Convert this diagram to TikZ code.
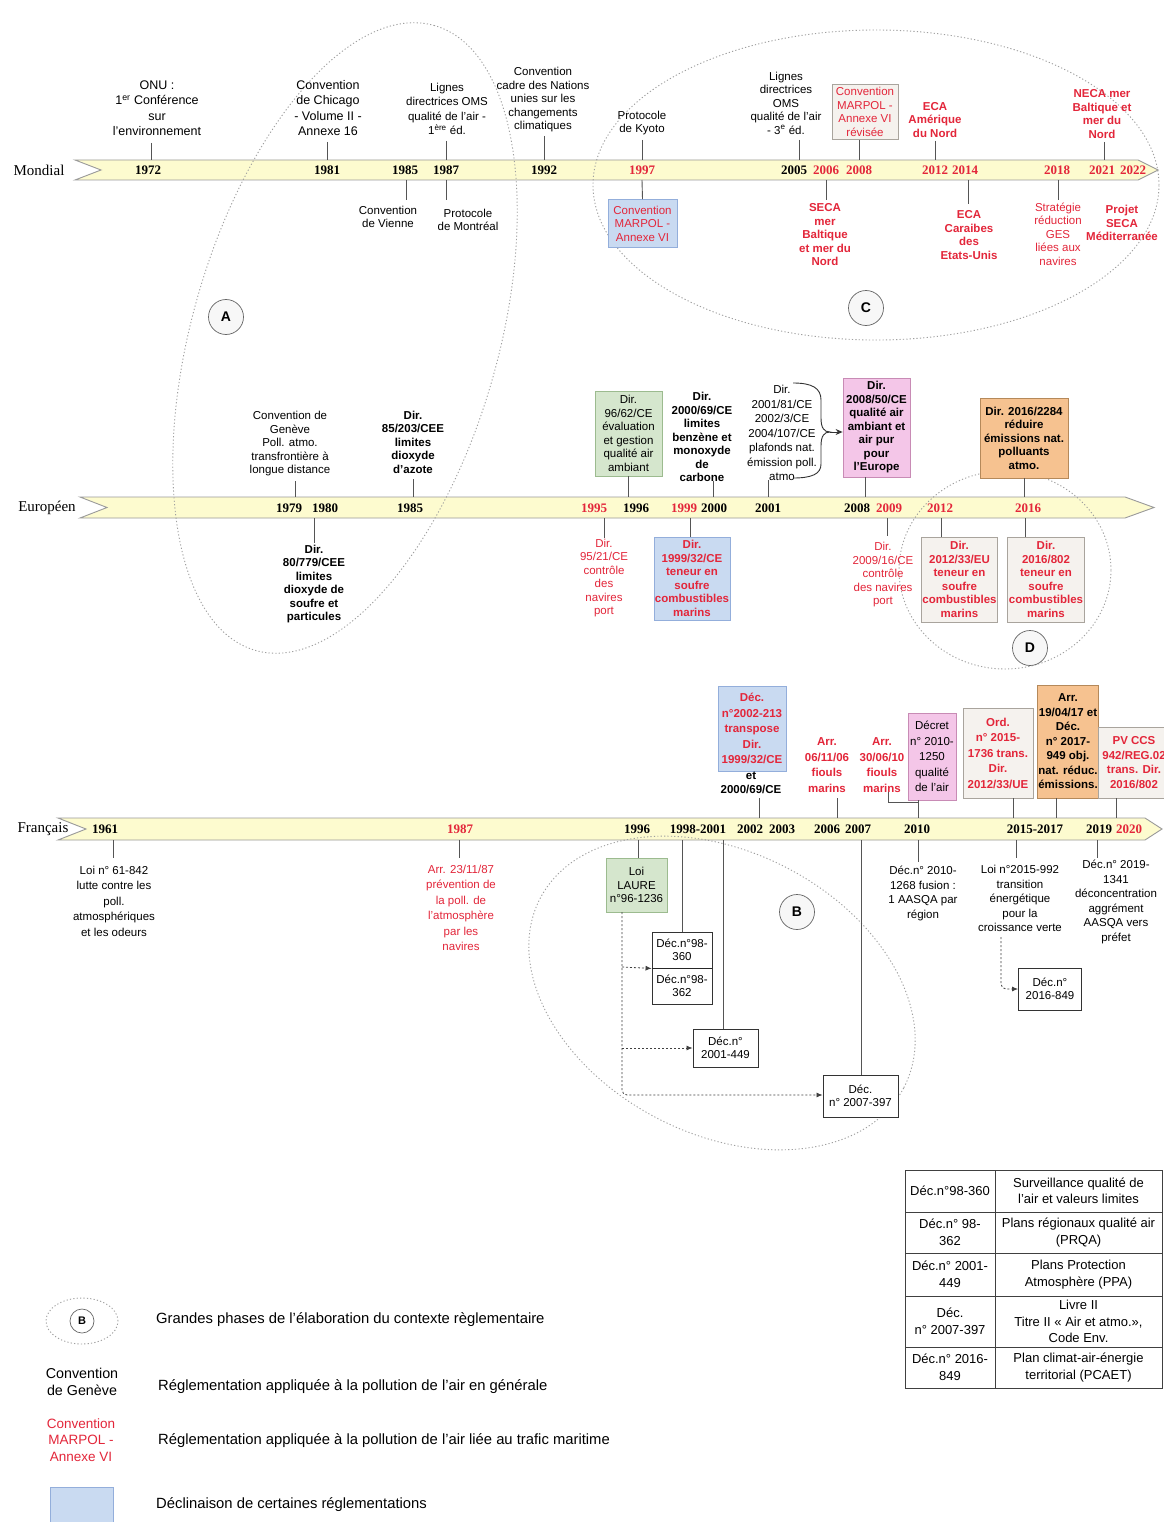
\documentclass[tikz,border=0pt]{standalone}
\usepackage{fontspec}
\setmainfont{Liberation Sans}
\newfontfamily\yrfont{Liberation Serif}
\usetikzlibrary{arrows.meta}
\definecolor{myred}{HTML}{E3263A}
\definecolor{baryel}{HTML}{FDFBCF}
\definecolor{barline}{HTML}{9A9A9A}
\definecolor{tickc}{HTML}{555555}
\definecolor{bluef}{HTML}{C9DAF1}
\definecolor{blued}{HTML}{93AEDB}
\definecolor{greenf}{HTML}{D5E6CD}
\definecolor{greend}{HTML}{9CBB8F}
\definecolor{pinkf}{HTML}{F4C6E8}
\definecolor{pinkd}{HTML}{C88BB5}
\definecolor{orangef}{HTML}{F6C290}
\definecolor{oranged}{HTML}{B5895A}
\definecolor{beigef}{HTML}{F5F2EE}
\definecolor{beiged}{HTML}{A9A49D}
\newcommand\fLab{\fontsize{11.5}{13.5}\selectfont}
\newcommand\fLabM{\fontsize{11.5}{14.5}\selectfont}
\newcommand\fLabW{\fontsize{11.5}{15.5}\selectfont}
\newcommand\fLabO{\fontsize{12.5}{15.5}\selectfont}
\newcommand\fLeg{\fontsize{14.8}{17}\selectfont}
\newcommand\fLegS{\fontsize{14.3}{17.5}\selectfont}
\newcommand\fTab{\fontsize{13}{16.5}\selectfont}
\newcommand\fYr{\yrfont\bfseries\fontsize{13}{13}\selectfont}
\newcommand\fRow{\yrfont\fontsize{15}{15}\selectfont}
\tikzset{
  lbl/.style={align=center, font=\fLab, inner sep=1pt, text=black},
  lblb/.style={lbl, font=\fLab\bfseries},
  rl/.style={lbl, text=myred},
  rlb/.style={lblb, text=myred},
  yr/.style={font=\fYr, inner sep=0pt},
  yrr/.style={yr, text=myred},
  rowlab/.style={font=\fRow, inner sep=0pt},
  tick/.style={draw=tickc, line width=0.9pt},
  bar/.style={draw=barline, fill=baryel, line width=0.9pt},
  phase/.style={draw=gray!75, line width=0.9pt, dash pattern=on 1.2pt off 2.2pt},
  lettercirc/.style={circle, draw=gray!80!black, fill=gray!6, line width=0.7pt, minimum size=35pt, inner sep=0pt, font=\bfseries\fontsize{14}{14}\selectfont},
  boxblue/.style={draw=blued, fill=bluef, line width=0.8pt},
  boxgreen/.style={draw=greend, fill=greenf, line width=0.8pt},
  boxpink/.style={draw=pinkd, fill=pinkf, line width=0.8pt},
  boxorange/.style={draw=oranged, fill=orangef, line width=0.8pt},
  boxbeige/.style={draw=beiged, fill=beigef, line width=0.8pt},
  boxw/.style={draw=black!80, fill=white, line width=0.9pt},
  dotarr/.style={draw=black!75, line width=0.8pt, dash pattern=on 2pt off 2pt, -{Latex[length=6pt,width=5pt]}},
  legtxt/.style={font=\fLeg, inner sep=0pt, anchor=west},
  cell/.style={draw=black!75, line width=1pt, align=center, font=\fTab, inner sep=1pt},
}
\begin{document}
\begin{tikzpicture}[x=1pt,y=-1pt]
\useasboundingbox (0,0) rectangle (1163,1522);
\fill[white] (0,0) rectangle (1163,1522);

% ---------------- bars ----------------
\draw[bar] (75,160) -- (1138,160) -- (1158,170) -- (1138,180) -- (75,180) -- (101,170) -- cycle;
\draw[bar] (80,497) -- (1125,497) -- (1154,507.5) -- (1125,518) -- (80,518) -- (107,507.5) -- cycle;
\draw[bar] (58,818) -- (1145,818) -- (1162,829) -- (1145,840) -- (58,840) -- (86,829) -- cycle;

% ---------------- phases ----------------
\draw[phase, rotate around={74:(345,338)}] (345,338) ellipse [x radius=325pt, y radius=153pt];
\draw[phase] (876,185) ellipse [x radius=283pt, y radius=155pt];
\draw[phase] (1005,570) ellipse [x radius=106pt, y radius=99pt];
\draw[phase, rotate around={-27.5:(722,993)}] (722,993) ellipse [x radius=205pt, y radius=141pt];

\node[lettercirc] (cA) at (226,317) {A};
\node[lettercirc] (cC) at (866,308) {C};
\node[lettercirc] (cD) at (1030,648) {D};
\node[lettercirc] (cB) at (797,912) {B};

% ---------------- row labels ----------------
\node[rowlab] (mondial) at (39,170) {Mondial};
\node[rowlab] (europ) at (47,508) {Européen};
\node[rowlab] (franc) at (43,829) {Français};

% ================= MONDIAL =================
\node[yr] (M1972) at (148,170) {1972};
\node[yr] (M1981) at (327,170) {1981};
\node[yr] (M1985) at (405,170) {1985};
\node[yr] (M1987) at (446,170) {1987};
\node[yr] (M1992) at (544,170) {1992};
\node[yrr] (M1997) at (642,170) {1997};
\node[yr] (M2005) at (794,170) {2005};
\node[yrr] (M2006) at (826,170) {2006};
\node[yrr] (M2008) at (859,170) {2008};
\node[yrr] (M2012) at (935,170) {2012};
\node[yrr] (M2014) at (965,170) {2014};
\node[yrr] (M2018) at (1057,170) {2018};
\node[yrr] (M2021) at (1102,170) {2021};
\node[yrr] (M2022) at (1133,170) {2022};

\node[lbl, font=\fLabO] (onu) at (157,108) {ONU :\\1\textsuperscript{er} Conférence\\sur\\l'environnement};
\node[lbl, font=\fLabO] (chic) at (328,108) {Convention\\de Chicago\\- Volume II -\\Annexe 16};
\node[lbl, font=\fLabM] (oms1) at (447,109) {Lignes\\directrices OMS\\qualité de l'air -\\1\textsuperscript{ère} éd.};
\node[lbl] (ccnu) at (543,100) {Convention\\cadre des Nations\\unies sur les\\changements\\climatiques};
\node[lbl] (kyoto) at (642,123) {Protocole\\de Kyoto};
\node[lbl] (oms3) at (786,103) {Lignes\\directrices\\OMS\\qualité de l'air\\- 3\textsuperscript{e} éd.};
\node[boxbeige, rl, minimum width=66, minimum height=55] (marpolr) at (865,112) {Convention\\MARPOL -\\Annexe VI\\révisée};
\node[rlb] (ecaan) at (935,120) {ECA\\Amérique\\du Nord};
\node[rlb] (neca) at (1102,114) {NECA mer\\Baltique et\\mer du\\Nord};

\draw[tick] (151,143) -- (151,160);
\draw[tick] (327,142) -- (327,160);
\draw[tick] (446,141) -- (446,160);
\draw[tick] (544,136) -- (544,160);
\draw[tick] (642,140) -- (642,160);
\draw[tick] (799,140) -- (799,160);
\draw[tick] (859,140) -- (859,160);
\draw[tick] (935,141) -- (935,160);
\draw[tick] (1104,142) -- (1104,160);

\node[lbl] (vienne) at (388,217) {Convention\\de Vienne};
\node[lbl] (montreal) at (468,220) {Protocole\\de Montréal};
\node[boxblue, rl, minimum width=69, minimum height=48] (marpol) at (642.5,223.5) {Convention\\MARPOL -\\Annexe VI};
\node[rlb] (seca) at (825,235) {SECA\\mer\\Baltique\\et mer du\\Nord};
\node[rlb] (ecacar) at (969,235) {ECA\\Caraibes\\des\\Etats-Unis};
\node[rl] (strat) at (1058,234) {Stratégie\\réduction\\GES\\liées aux\\navires};
\node[rlb] (projet) at (1122,223) {Projet\\SECA\\Méditerranée};

\draw[tick] (406,180) -- (406,200);
\draw[tick] (446,180) -- (446,200);
\draw[tick] (642,180) -- (marpol.north);
\draw[tick] (826,180) -- (826,200);
\draw[tick] (968,180) -- (968,204);
\draw[tick] (1058,180) -- (1058,200);

% ================= EUROPEEN =================
\node[yr] (E1979) at (289,508) {1979};
\node[yr] (E1980) at (325,508) {1980};
\node[yr] (E1985) at (410,508) {1985};
\node[yrr] (E1995) at (594,508) {1995};
\node[yr] (E1996) at (636,508) {1996};
\node[yrr] (E1999) at (684,508) {1999};
\node[yr] (E2000) at (714,508) {2000};
\node[yr] (E2001) at (768,508) {2001};
\node[yr] (E2008) at (857,508) {2008};
\node[yrr] (E2009) at (889,508) {2009};
\node[yrr] (E2012) at (940,508) {2012};
\node[yrr] (E2016) at (1028,508) {2016};

\node[lbl] (geneve) at (290,444) {Convention de\\Genève\\Poll. atmo.\\transfrontière à\\longue distance};
\node[lblb] (d85) at (413,442) {Dir.\\85/203/CEE\\limites\\dioxyde\\d'azote};
\node[boxgreen, lbl, minimum width=67, minimum height=85] (d96) at (628.5,433.5) {Dir.\\96/62/CE\\évaluation\\et gestion\\qualité air\\ambiant};
\node[lblb] (d2000) at (702,437) {Dir.\\2000/69/CE\\limites\\benzène et\\monoxyde\\de\\carbone};
\node[lbl, font=\fLabM] (d2001) at (782,433) {Dir.\\2001/81/CE\\2002/3/CE\\2004/107/CE\\plafonds nat.\\émission poll.\\atmo};
\node[boxpink, lblb, minimum width=67, minimum height=99] (d2008) at (876.5,427.5) {Dir.\\2008/50/CE\\qualité air\\ambiant et\\air pur\\pour\\l'Europe};
\node[boxorange, lblb, minimum width=88, minimum height=80] (d2016a) at (1024,438) {Dir. 2016/2284\\réduire\\émissions nat.\\polluants\\atmo.};

\draw[draw=black!80, line width=0.9pt] (793,383) .. controls (812,383) and (821,388) .. (821,400) -- (821,418) .. controls (821,428) and (824,432) .. (830,432) .. controls (824,432) and (821,436) .. (821,446) -- (821,464) .. controls (821,474) and (812,478) .. (793,478);
\coordinate (brtip) at (830,432);
\draw[draw=black!80, line width=0.9pt, -{Stealth[length=7pt,width=6pt]}] (brtip) -- (brtip -| d2008.west);

\draw[tick] (295,481) -- (295,497);
\draw[tick] (413,479) -- (413,497);
\draw[tick] (628,476) -- (628,497);
\draw[tick] (713,481) -- (713,497);
\draw[tick] (768,480) -- (768,497);
\draw[tick] (865,477) -- (865,497);
\draw[tick] (1024,478) -- (1024,497);

\node[lblb] (d80) at (314,584) {Dir.\\80/779/CEE\\limites\\dioxyde de\\soufre et\\particules};
\node[rl] (d95) at (604,578) {Dir.\\95/21/CE\\contrôle\\des\\navires\\port};
\node[boxblue, rlb, minimum width=72, minimum height=83] (d1999) at (692,578.5) {Dir.\\1999/32/CE\\teneur en\\soufre\\combustibles\\marins};
\node[rl] (d2009) at (883,575) {Dir.\\2009/16/CE\\contrôle\\des navires\\port};
\node[boxbeige, rlb, minimum width=76, minimum height=85] (d2012) at (959.5,579.5) {Dir.\\2012/33/EU\\teneur en\\soufre\\combustibles\\marins};
\node[boxbeige, rlb, minimum width=77, minimum height=85] (d2016b) at (1046,579.5) {Dir.\\2016/802\\teneur en\\soufre\\combustibles\\marins};

\draw[tick] (314,518) -- (314,543);
\draw[tick] (604,518) -- (604,538);
\draw[tick] (690,518) -- (690,537);
\draw[tick] (887,518) -- (887,536);
\draw[tick] (941,518) -- (941,537);
\draw[tick] (1025,518) -- (1025,537);

% ================= FRANCAIS =================
\node[yr] (F1961) at (105,829) {1961};
\node[yrr] (F1987) at (460,829) {1987};
\node[yr] (F1996) at (637,829) {1996};
\node[yr] (F1998) at (698,829) {1998-2001};
\node[yr] (F2002) at (750,829) {2002};
\node[yr] (F2003) at (782,829) {2003};
\node[yr] (F2006) at (827,829) {2006};
\node[yr] (F2007) at (858,829) {2007};
\node[yr] (F2010) at (917,829) {2010};
\node[yr] (F2015) at (1035,829) {2015-2017};
\node[yr] (F2019) at (1099,829) {2019};
\node[yrr] (F2020) at (1129,829) {2020};

\node[boxblue, rlb, font=\fLabW\bfseries, minimum width=68, minimum height=85] (dec2002) at (752,728.5) {Déc.\\n°2002-213\\transpose\\Dir.\\1999/32/CE};
\node[lblb] (dec2002b) at (751,783) {et\\2000/69/CE};
\node[rlb, font=\fLabW\bfseries] (arr06) at (827,765) {Arr.\\06/11/06\\fiouls\\marins};
\node[rlb, font=\fLabW\bfseries] (arr10) at (882,765) {Arr.\\30/06/10\\fiouls\\marins};
\node[boxpink, lbl, font=\fLabW, minimum width=48, minimum height=87] (dec2010a) at (932,756.5) {Décret\\n° 2010-\\1250\\qualité\\de l'air};
\node[boxbeige, rlb, font=\fLabW\bfseries, minimum width=70, minimum height=90] (ord2015) at (998,753) {Ord.\\n° 2015-\\1736 trans.\\Dir.\\2012/33/UE};
\node[boxorange, lblb, font=\fLabM\bfseries, minimum width=60, minimum height=113] (arr2017) at (1068,741.5) {Arr.\\19/04/17 et\\Déc.\\n° 2017-\\949 obj.\\nat. réduc.\\émissions.};
\node[boxbeige, rlb, font=\fLabM\bfseries, minimum width=72, minimum height=71] (pvccs) at (1134,762.5) {PV CCS\\942/REG.02\\trans. Dir.\\2016/802};

\draw[tick] (759,798) -- (759,818);
\draw[tick] (837,798) -- (837,818);
\draw[tick] (888,792) -- (888,802) -- (918,802);
\draw[tick] (918,800) -- (918,818);
\draw[tick] (1013,798) -- (1013,818);
\draw[tick] (1056,798) -- (1056,818);
\draw[tick] (1116,798) -- (1116,818);

\node[lbl, font=\fLabW] (loi61) at (114,901) {Loi n° 61-842\\lutte contre les\\poll.\\atmosphériques\\et les odeurs};
\node[rl, font=\fLabW] (arr87) at (461,908) {Arr. 23/11/87\\prévention de\\la poll. de\\l'atmosphère\\par les\\navires};
\node[boxgreen, lbl, minimum width=61, minimum height=54] (laure) at (636.5,885) {Loi\\LAURE\\n°96-1236};
\node[boxw, lbl, minimum width=60, minimum height=36] (d98a) at (682,950) {Déc.n°98-\\360};
\node[boxw, lbl, minimum width=60, minimum height=36] (d98b) at (682,986) {Déc.n°98-\\362};
\draw[line width=1.8pt, black!85] (d98a.south west) -- (d98a.south east);
\node[boxw, lbl, minimum width=65, minimum height=38] (dec2001) at (725.5,1048) {Déc.n°\\2001-449};
\node[boxw, lbl, minimum width=75, minimum height=42] (dec2007) at (860.5,1096) {Déc.\\n° 2007-397};
\node[lbl, font=\fLabM] (dec2010b) at (923,893.5) {Déc.n° 2010-\\1268 fusion :\\1 AASQA par\\région};
\node[lbl, font=\fLabM] (loi2015) at (1020,898.5) {Loi n°2015-992\\transition\\énergétique\\pour la\\croissance verte};
\node[lbl, font=\fLabM] (dec2019) at (1116,902) {Déc.n° 2019-\\1341\\déconcentration\\aggrément\\AASQA vers\\préfet};
\node[boxw, lbl, minimum width=63, minimum height=42] (dec2016) at (1050,989) {Déc.n°\\2016-849};

\draw[tick] (113,840) -- (113,858);
\draw[tick] (459,840) -- (459,858);
\draw[tick] (638,840) -- (638,858);
\draw[tick] (682,840) -- (d98a.north);
\draw[tick] (723,840) -- (723,1029);
\draw[tick] (861,840) -- (861,1075);
\draw[tick] (918,840) -- (918,862);
\draw[tick] (1016,840) -- (1016,858);
\draw[tick] (1097,840) -- (1097,858);

\coordinate (lb) at (622,912);
\draw[dotarr] (lb) -- (622,1090) to[out=-90,in=180] (627,1095) -- (dec2007.west |- 0,1095);
\draw[dotarr] (622,967) -- (d98a.south west);
\draw[dotarr] (622,1048) -- (dec2001.west);
\draw[dotarr, rounded corners=5pt] (1001,937) |- (dec2016.west);

% ================= LEGEND =================
\draw[phase] (82,1321) ellipse [x radius=36pt, y radius=23pt];
\node[circle, draw=gray!80!black, line width=0.7pt, minimum size=24pt, inner sep=0pt, font=\bfseries\fontsize{11}{11}\selectfont] (legB) at (82,1321) {B};
\node[legtxt] (leg1) at (156,1320) {Grandes phases de l'élaboration du contexte règlementaire};
\node[lbl, font=\fLegS] (legG) at (82,1382) {Convention\\de Genève};
\node[legtxt] (leg2) at (158,1387) {Réglementation appliquée à la pollution de l'air en générale};
\node[rl, font=\fontsize{13.5}{16.5}\selectfont] (legM) at (81,1440) {Convention\\MARPOL -\\Annexe VI};
\node[legtxt] (leg3) at (158,1441) {Réglementation appliquée à la pollution de l'air liée au trafic maritime};
\draw[draw=blued, fill=bluef, line width=0.8pt] (50,1487) rectangle (113,1526);
\node[legtxt] (leg4) at (156,1505) {Déclinaison de certaines réglementations};

% table
\node[cell, minimum width=90, minimum height=42] (t1a) at (950,1191) {Déc.n°98-360};
\node[cell, minimum width=167, minimum height=42] (t1b) at (1078.5,1191) {Surveillance qualité de\\l'air et valeurs limites};
\node[cell, minimum width=90, minimum height=41] (t2a) at (950,1232.5) {Déc.n° 98-\\362};
\node[cell, minimum width=167, minimum height=41] (t2b) at (1078.5,1232.5) {Plans régionaux qualité air\\(PRQA)};
\node[cell, minimum width=90, minimum height=43] (t3a) at (950,1274.5) {Déc.n° 2001-\\449};
\node[cell, minimum width=167, minimum height=43] (t3b) at (1078.5,1274.5) {Plans Protection\\Atmosphère (PPA)};
\node[cell, minimum width=90, minimum height=51] (t4a) at (950,1321.5) {Déc.\\n° 2007-397};
\node[cell, minimum width=167, minimum height=51] (t4b) at (1078.5,1321.5) {Livre II\\Titre II « Air et atmo.»,\\Code Env.};
\node[cell, minimum width=90, minimum height=41] (t5a) at (950,1367.5) {Déc.n° 2016-\\849};
\node[cell, minimum width=167, minimum height=41] (t5b) at (1078.5,1367.5) {Plan climat-air-énergie\\territorial (PCAET)};
\end{tikzpicture}
\end{document}
